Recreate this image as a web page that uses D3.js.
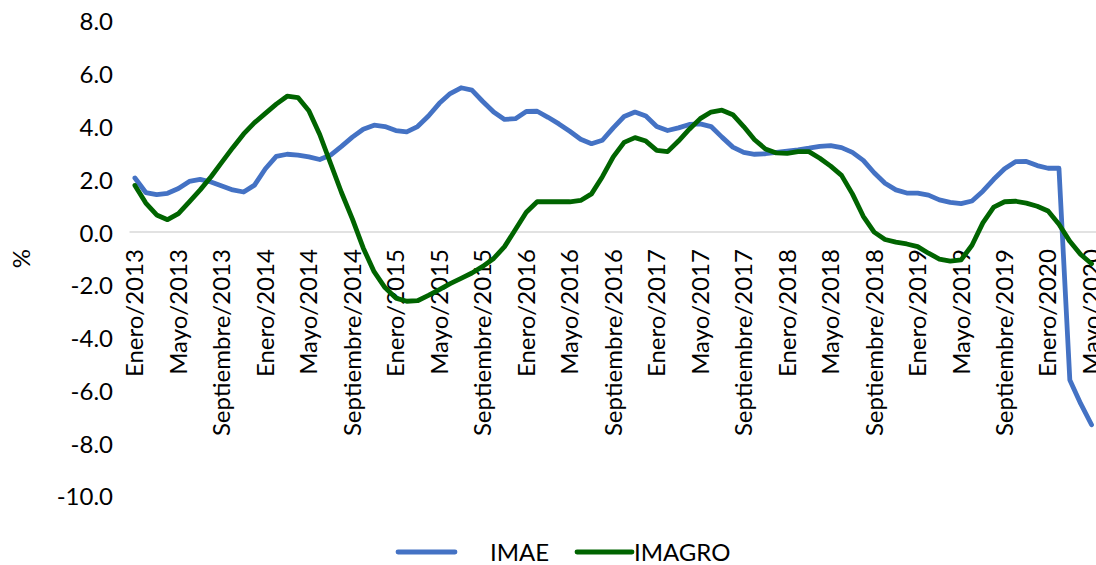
<!DOCTYPE html>
<html lang="es">
<head>
<meta charset="utf-8">
<title>IMAE vs IMAGRO</title>
<script src="https://d3js.org/d3.v7.min.js"></script>
<style>
        body {
            margin: 0;
            background: #fff;
            overflow: hidden;
        }
        text {
            font-family: Lato, "Open Sans", sans-serif;
            fill: #000;
        }
</style>
</head>
<body>
<div id="chart"></div>
<script>

// meses y años del eje
var meses = ["Enero","Febrero","Marzo","Abril","Mayo","Junio","Julio","Agosto","Septiembre","Octubre","Noviembre","Diciembre"];
var anios = [2013, 2014, 2015, 2016, 2017, 2018, 2019, 2020];
var nMeses = 89; // enero 2013 - mayo 2020

// variación interanual, %
var imae = [2.05,1.5,1.42,1.47,1.65,1.92,2.0,1.9,1.75,1.6,1.52,1.78,
            2.4,2.87,2.95,2.92,2.85,2.75,2.92,3.25,3.6,3.9,4.05,4.0,
            3.85,3.8,4.0,4.4,4.88,5.25,5.47,5.38,4.95,4.55,4.27,4.3,
            4.57,4.58,4.35,4.1,3.82,3.52,3.35,3.48,3.95,4.38,4.55,4.4,
            4.0,3.85,3.95,4.08,4.1,4.0,3.6,3.22,3.02,2.95,2.97,3.02,
            3.07,3.12,3.18,3.25,3.28,3.2,3.02,2.72,2.25,1.85,1.6,1.48,
            1.48,1.4,1.22,1.13,1.08,1.18,1.55,2.0,2.4,2.67,2.68,2.52,
            2.42,2.42,-5.6,-6.5,-7.3];

var imagro = [1.77,1.1,0.65,0.47,0.7,1.15,1.6,2.1,2.65,3.2,3.72,4.15,
              4.5,4.85,5.15,5.1,4.6,3.7,2.6,1.5,0.5,-0.6,-1.5,-2.1,
              -2.5,-2.62,-2.6,-2.4,-2.18,-1.95,-1.75,-1.55,-1.3,-1.0,-0.55,0.1,
              0.75,1.15,1.15,1.15,1.15,1.2,1.45,2.1,2.85,3.4,3.58,3.45,
              3.1,3.05,3.45,3.9,4.3,4.55,4.62,4.45,4.0,3.5,3.15,3.0,
              2.98,3.05,3.05,2.8,2.5,2.15,1.45,0.6,0.0,-0.28,-0.38,-0.45,
              -0.55,-0.8,-1.02,-1.1,-1.05,-0.5,0.35,0.95,1.15,1.17,1.1,0.98,
              0.8,0.3,-0.35,-0.85,-1.2];

var yTicks = [-10, -8, -6, -4, -2, 0, 2, 4, 6, 8];

var series = [
  {name: "IMAE", values: imae, color: "#4472C4"},
  {name: "IMAGRO", values: imagro, color: "#006400"}
];

var categorias = d3.range(nMeses).map(function(i) {
  return meses[i % 12] + "/" + anios[Math.floor(i / 12)];
});

var width = 1096, height = 565;

var svg = d3.select("#chart")
  .append("svg")
    .attr("width", width)
    .attr("height", height);

var x = d3.scaleBand()
  .domain(categorias)
  .range([129.5, 1097])
  .padding(0);

var y = d3.scaleLinear()
  .domain([-10, 8])
  .range([496, 21]);

function cx(d, i) { return x(categorias[i]) + x.bandwidth() / 2; }

// etiquetas eje Y (guion normal, no el signo menos de d3)
var fmt = function(v) { return d3.format(".1f")(v).replace("\u2212", "-"); };

svg.append("g")
  .selectAll("text")
  .data(yTicks)
  .enter()
  .append("text")
    .attr("x", 113)
    .attr("y", function(d) { return y(d) + 1; })
    .attr("dy", "0.35em")
    .style("text-anchor", "end")
    .style("font-size", "24px")
    .text(fmt);

svg.append("text")
  .attr("transform", "translate(22," + ((y(8) + y(-10)) / 2) + ") rotate(-90)")
  .attr("dy", "0.35em")
  .style("text-anchor", "middle")
  .style("font-size", "24px")
  .text("%");

// linea del cero
svg.append("line")
  .attr("x1", x.range()[0])
  .attr("x2", x.range()[1])
  .attr("y1", y(0))
  .attr("y2", y(0))
  .style("stroke", "#D9D9D9")
  .style("stroke-width", 1.5);

// etiquetas eje X, cada 4 meses
svg.append("g")
  .selectAll("text")
  .data(categorias.filter(function(d, i) { return i % 4 === 0; }))
  .enter()
  .append("text")
    .attr("transform", function(d) {
      return "translate(" + (x(d) + x.bandwidth() / 2) + "," + (y(0) + 17) + ") rotate(-90)";
    })
    .attr("dy", "0.35em")
    .style("text-anchor", "end")
    .style("font-size", "24px")
    .text(function(d) { return d; });

var line = d3.line()
  .x(function(d, i) { return cx(d, i); })
  .y(function(d) { return y(d); });

svg.append("g")
  .selectAll("path")
  .data(series)
  .enter()
  .append("path")
    .attr("d", function(s) { return line(s.values); })
    .style("fill", "none")
    .style("stroke", function(s) { return s.color; })
    .style("stroke-width", 4.8)
    .style("stroke-linejoin", "round")
    .style("stroke-linecap", "round");

// leyenda
var legendX = [{x1: 398, x2: 455, tx: 490}, {x1: 577, x2: 632, tx: 634}];
var legend = svg.append("g")
  .selectAll("g")
  .data(series)
  .enter()
  .append("g");

legend.append("line")
  .attr("x1", function(d, i) { return legendX[i].x1; })
  .attr("x2", function(d, i) { return legendX[i].x2; })
  .attr("y1", 552)
  .attr("y2", 552)
  .style("stroke", function(d) { return d.color; })
  .style("stroke-width", 4.8)
  .style("stroke-linecap", "round");

legend.append("text")
  .attr("x", function(d, i) { return legendX[i].tx; })
  .attr("y", 553)
  .attr("dy", "0.35em")
  .style("font-size", "24px")
  .text(function(d) { return d.name; });

</script>
</body>
</html>
